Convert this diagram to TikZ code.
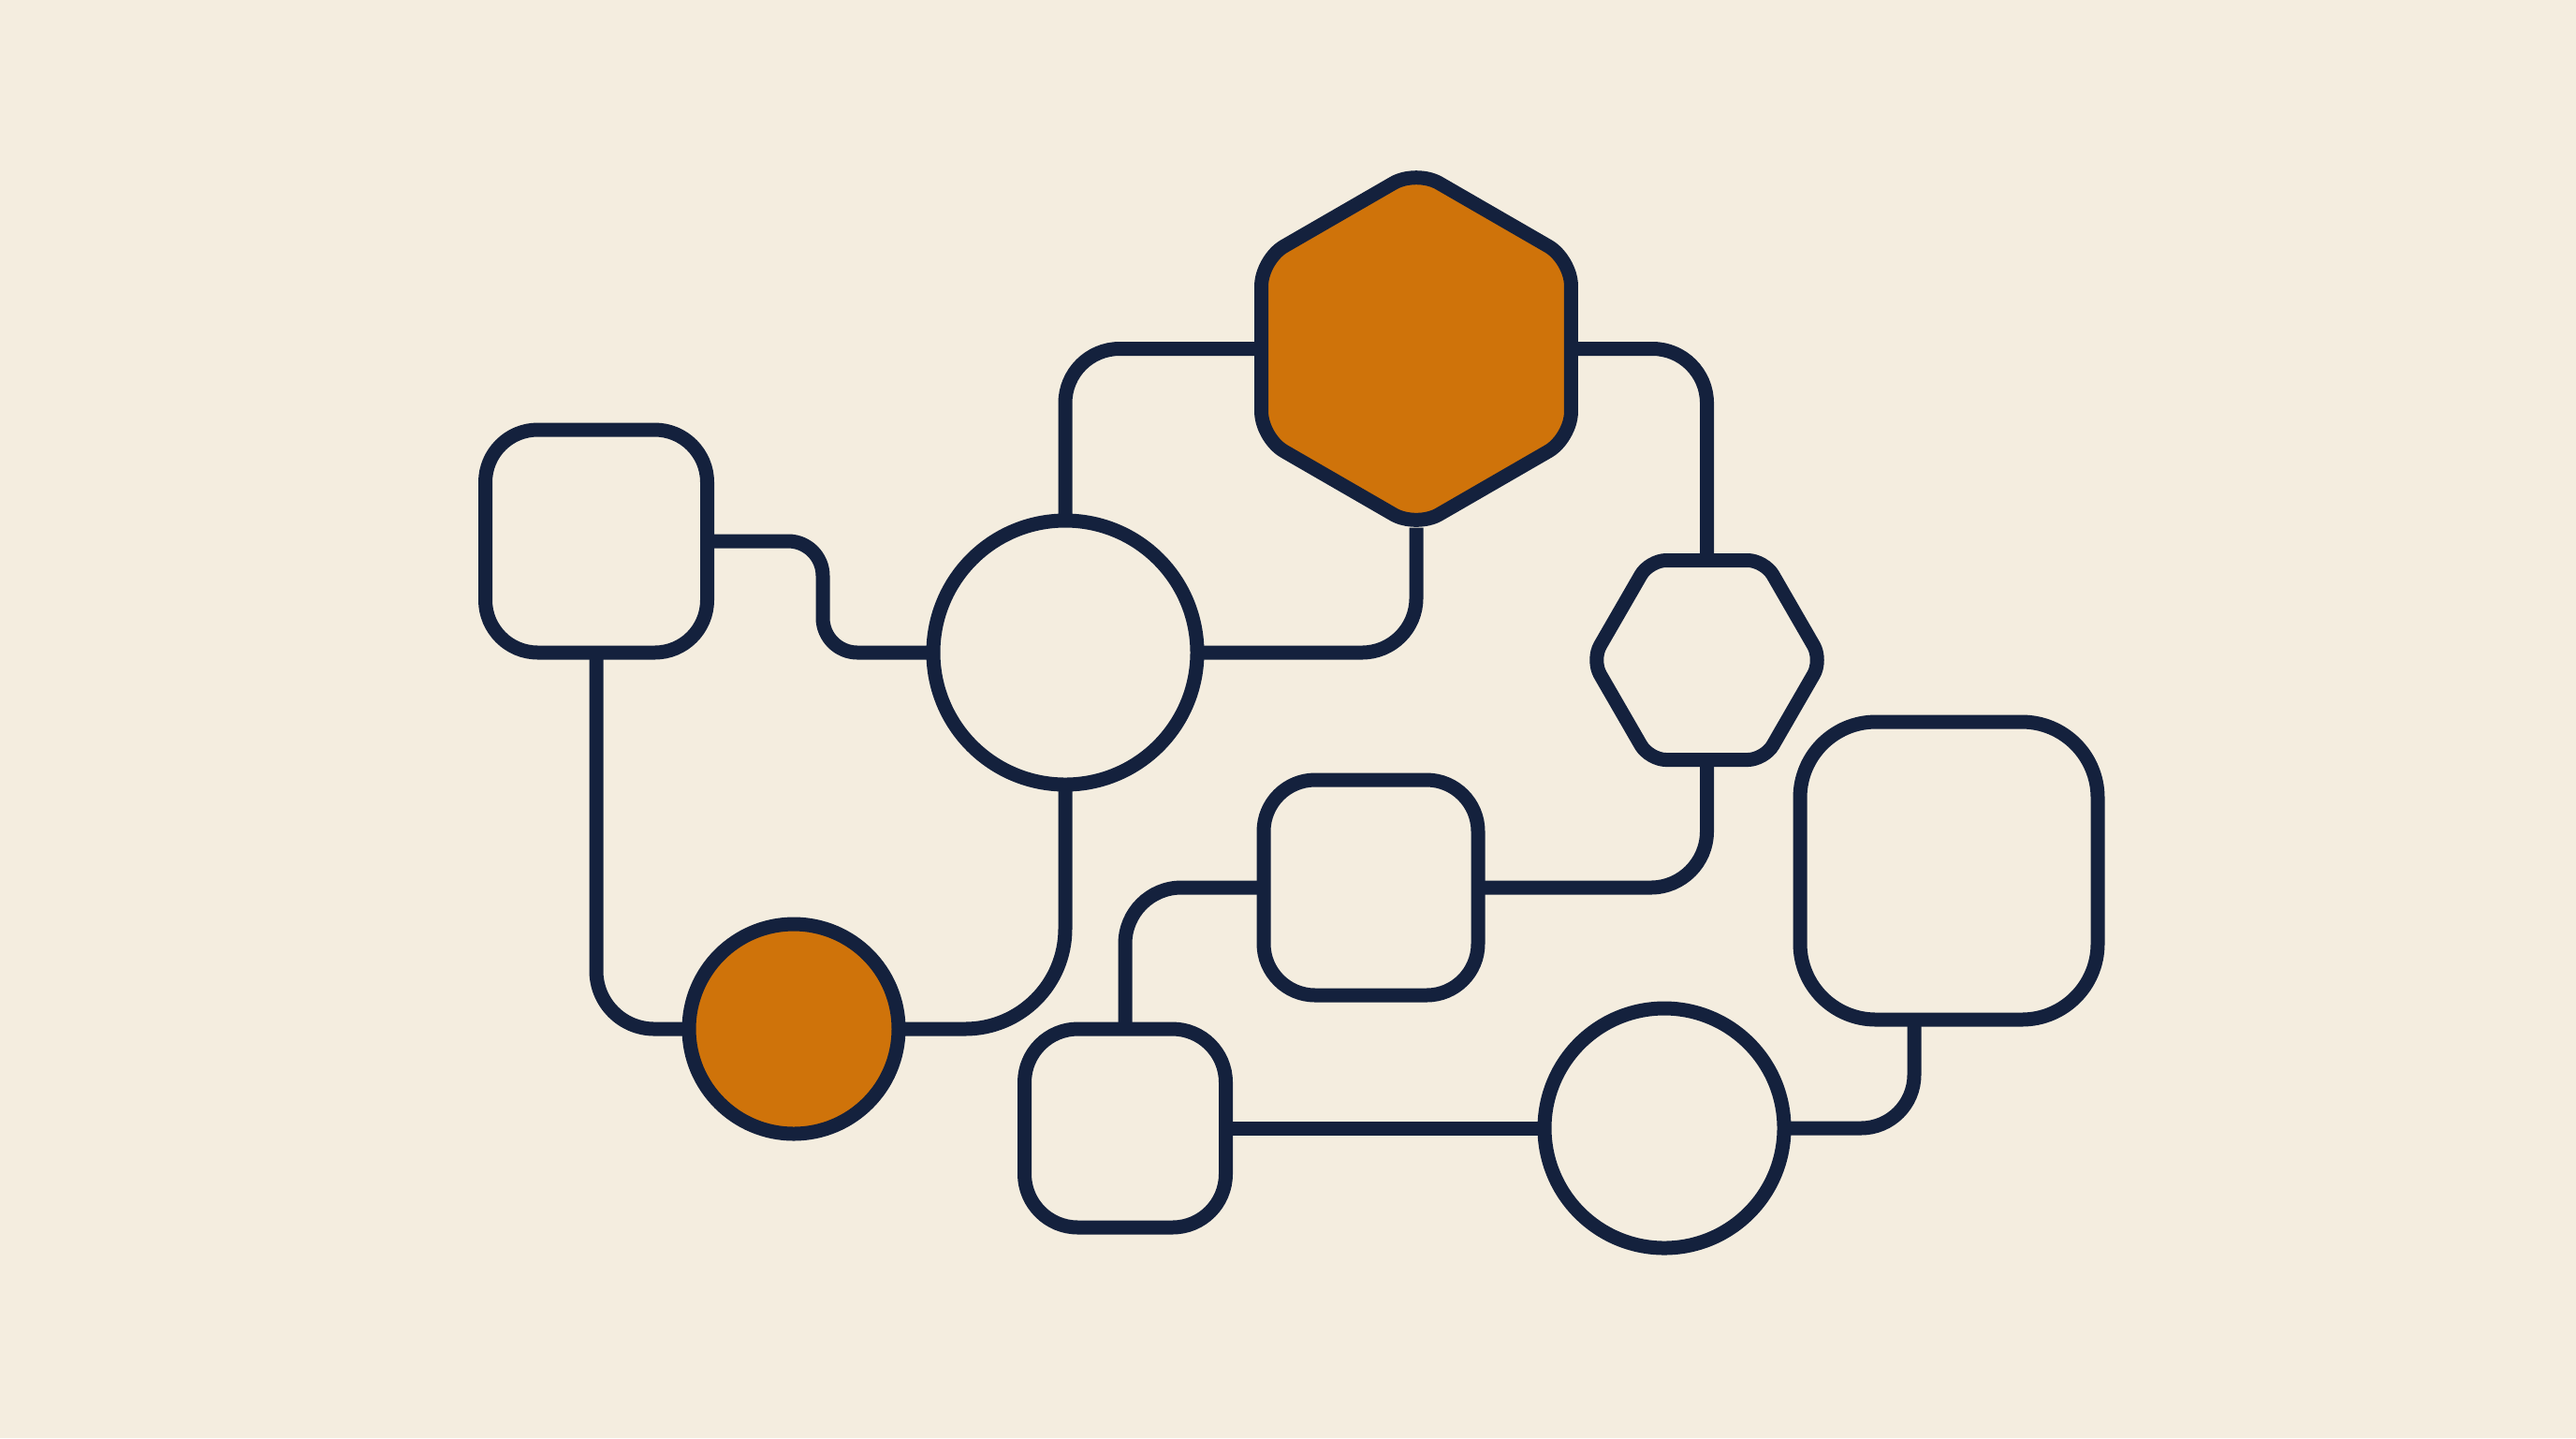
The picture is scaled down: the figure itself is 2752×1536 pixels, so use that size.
\documentclass[tikz,border=0pt]{standalone}
\usepackage{xcolor}
\usepackage{tikz}
\usetikzlibrary{shapes.geometric}
\usetikzlibrary{calc}

\definecolor{paper}{HTML}{F4EDDF}
\definecolor{ink}{HTML}{14213D}
\definecolor{amber}{HTML}{CF730A}

\tikzset{
	base/.style={draw=ink, line width=1.5mm, fill=paper, inner sep=0pt, outer sep=0pt},
	roundbox/.style={base, rectangle},
	ring/.style={base, circle},
	hexnode/.style={base, regular polygon, regular polygon sides=6},
	wire/.style={draw=ink, line width=1.5mm}
}

\begin{document}
\begin{tikzpicture}[x=0.1mm, y=-0.1mm]

	\fill [paper] (0,0) rectangle (2752,1536);

	% nodes
	\node [roundbox, minimum width=23.7mm, minimum height=23.8mm, rounded corners=5.6mm] (boxA) at (637,578) {};
	\node [roundbox, minimum width=22.9mm, minimum height=23mm, rounded corners=5.5mm] (boxB) at (1464.5,948) {};
	\node [roundbox, minimum width=21.5mm, minimum height=21.2mm, rounded corners=5.7mm] (boxC) at (1202,1205) {};
	\node [roundbox, minimum width=31.8mm, minimum height=31.8mm, rounded corners=8.1mm] (boxD) at (2082,930) {};

	\node [ring, minimum size=28.2mm] (circA) at (1138,697) {};
	\node [ring, minimum size=22.4mm, fill=amber] (circB) at (848,1099) {};
	\node [ring, minimum size=25.6mm] (circC) at (1778,1205) {};

	\node [hexnode, minimum size=38.2mm, shape border rotate=30, rounded corners=2.8mm, fill=amber] (hexA) at (1513,372.5) {};
	\node [hexnode, minimum size=24.6mm, rounded corners=1.8mm] (hexB) at (1823.5,705) {};

	% connectors
	\draw [wire, rounded corners=3.7mm] (boxA.east) -| ($(circA.west)+(-118,0)$) -- (circA.west);
	\draw [wire, rounded corners=6.2mm] (boxA.south) |- (circB.west);
	\draw [wire, rounded corners=10.7mm] (circB.east) -| (circA.south);
	\draw [wire, rounded corners=5.8mm] (circA.north) |- (hexA.west);
	\draw [wire, rounded corners=5.8mm] (hexA.south) |- (circA.east);
	\draw [wire, rounded corners=5.8mm] (hexA.east) -| (hexB.north);
	\draw [wire, rounded corners=6mm] (hexB.south) |- (boxB.east);
	\draw [wire, rounded corners=6mm] (boxB.west) -| (boxC.north);
	\draw [wire] (boxC.east) -- (circC.west);
	\draw [wire, rounded corners=5.7mm] (circC.east) -| ($(boxD.south)+(-37,0)$);

\end{tikzpicture}
\end{document}
